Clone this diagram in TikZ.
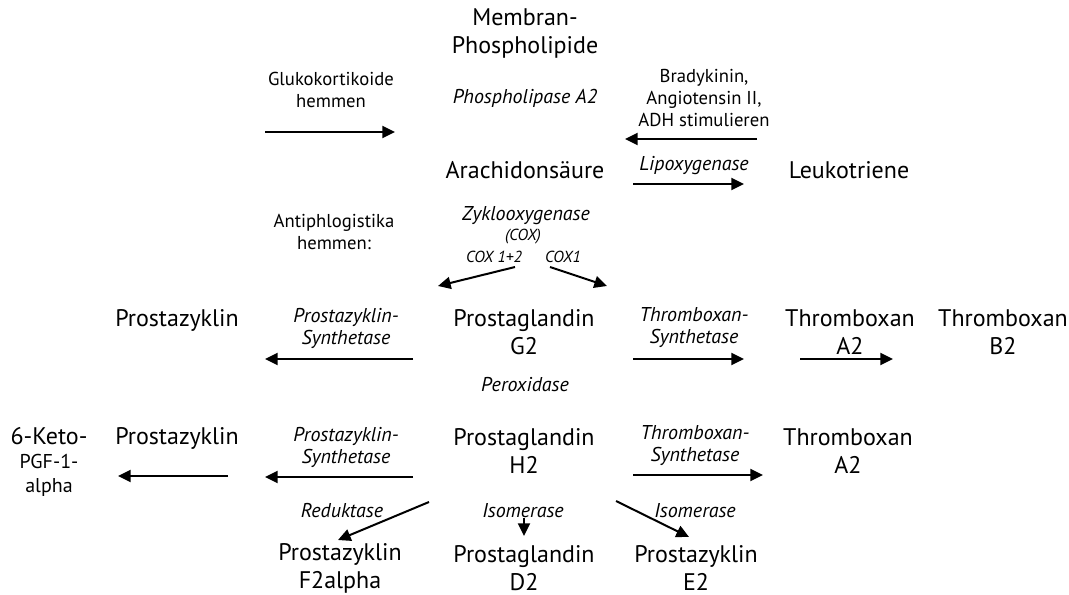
\documentclass[tikz,border=0pt]{standalone}
\usepackage{fontspec}
\setmainfont{PT Sans}
\usetikzlibrary{arrows.meta}

\begin{document}
\begin{tikzpicture}[x=0.75pt, y=-0.75pt,
		substance/.style={align=center,inner sep=0pt,font=\fontsize{18}{21}\selectfont},
		enzyme/.style={align=center,inner sep=0pt,font=\fontsize{15}{16.5}\selectfont\itshape},
		remark/.style={align=center,inner sep=0pt,font=\fontsize{14}{17}\selectfont},
		cox_style/.style={inner sep=0pt,font=\fontsize{12}{14}\selectfont\itshape},
		edge_style/.style={draw=black,line width=1.5pt,-{Triangle[length=9.5pt,width=9pt]}}]
		
		\useasboundingbox (0,0) rectangle (1069,595);
		
		% substances
		\node[substance] (membran) at (525,34)  {Membran-\\Phospholipide};
		\node[substance] (arachidon) at (525,170)  {Arachidonsäure};
		\node[substance] (leuko) at (849,170)  {Leukotriene};
		\node[substance] (prostaG) at (177,320)  {Prostazyklin};
		\node[substance] (pgG2) at (524,332)  {Prostaglandin\\G2};
		\node[substance] (txA2G) at (850,332)  {Thromboxan\\A2};
		\node[substance] (txB2) at (1003,332)  {Thromboxan\\B2};
		\node[remark,font=\fontsize{15}{18}\selectfont] (keto) at (49,462)  {{\fontsize{18}{21}\selectfont 6-Keto-}\\PGF-1-\\alpha};
		\node[substance] (prostaH) at (177,438)  {Prostazyklin};
		\node[substance] (pgH2) at (524,451)  {Prostaglandin\\H2};
		\node[substance] (txA2H) at (848,451)  {Thromboxan\\A2};
		\node[substance] (prostaF) at (340,568)  {Prostazyklin\\F2alpha};
		\node[substance] (pgD2) at (524,568)  {Prostaglandin\\D2};
		\node[substance] (prostaE) at (696,568)  {Prostazyklin\\E2};
		
		% enzymes and remarks
		\node[remark] (gluko) at (331,90)  {Glukokortikoide\\hemmen};
		\node[enzyme] (pla2) at (525,98)  {Phospholipase A2};
		\node[remark,font=\fontsize{14}{16.5}\selectfont] (brady) at (704,98)  {Bradykinin,\\Angiotensin II,\\ADH stimulieren};
		\node[enzyme] (lipox) at (694,166)  {Lipoxygenase};
		\node[remark] (antiphlog) at (334,232)  {Antiphlogistika\\hemmen:};
		\node[enzyme] (coxname) at (526,216)  {Zyklooxygenase};
		\node[cox_style] (coxabbr) at (523,237)  {(COX)};
		\node[cox_style] (cox12) at (494,257)  {COX 1+2};
		\node[cox_style] (cox1) at (563,257)  {COX1};
		\node[enzyme] (synthL1) at (346,328)  {Prostazyklin-\\Synthetase};
		\node[enzyme] (synthR1) at (694,328)  {Thromboxan-\\Synthetase};
		\node[enzyme] (perox) at (525,385)  {Peroxidase};
		\node[enzyme] (synthL2) at (346,447)  {Prostazyklin-\\Synthetase};
		\node[enzyme] (synthR2) at (695,446)  {Thromboxan-\\Synthetase};
		\node[enzyme] (redukt) at (342,511)  {Reduktase};
		\node[enzyme] (isoD) at (523,511)  {Isomerase};
		\node[enzyme] (isoE) at (695,511)  {Isomerase};
		
		% arrow ends
		\coordinate (glukoA) at (265,132);
		\coordinate (glukoB) at (395,132);
		\coordinate (bradyA) at (757,139);
		\coordinate (bradyB) at (625,139);
		\coordinate (lipoxA) at (633,184);
		\coordinate (lipoxB) at (744,184);
		\coordinate (cox12A) at (515,267);
		\coordinate (cox12B) at (438,286);
		\coordinate (cox1A) at (550,267);
		\coordinate (cox1B) at (607,286);
		\coordinate (synthL1A) at (413,359);
		\coordinate (synthL1B) at (265,359);
		\coordinate (synthR1A) at (633,359);
		\coordinate (synthR1B) at (744,359);
		\coordinate (txA) at (800,359);
		\coordinate (txB) at (893,359);
		\coordinate (ketoA) at (228,476);
		\coordinate (ketoB) at (118,476);
		\coordinate (synthL2A) at (413,477);
		\coordinate (synthL2B) at (265,477);
		\coordinate (synthR2A) at (633,475);
		\coordinate (synthR2B) at (763,475);
		\coordinate (reduktA) at (429,502);
		\coordinate (reduktB) at (338,540);
		\coordinate (isoDA) at (524,518);
		\coordinate (isoDB) at (524,536);
		\coordinate (isoEA) at (616,501);
		\coordinate (isoEB) at (689,537);
		
		\draw[edge_style]  (glukoA) -- (glukoB);
		\draw[edge_style]  (bradyA) -- (bradyB);
		\draw[edge_style]  (lipoxA) -- (lipoxB);
		\draw[edge_style]  (cox12A) -- (cox12B);
		\draw[edge_style]  (cox1A) -- (cox1B);
		\draw[edge_style]  (synthL1A) -- (synthL1B);
		\draw[edge_style]  (synthR1A) -- (synthR1B);
		\draw[edge_style]  (txA) -- (txB);
		\draw[edge_style]  (ketoA) -- (ketoB);
		\draw[edge_style]  (synthL2A) -- (synthL2B);
		\draw[edge_style]  (synthR2A) -- (synthR2B);
		\draw[edge_style]  (reduktA) -- (reduktB);
		\draw[edge_style]  (isoDA) -- (isoDB);
		\draw[edge_style]  (isoEA) -- (isoEB);
		
\end{tikzpicture}
\end{document}
